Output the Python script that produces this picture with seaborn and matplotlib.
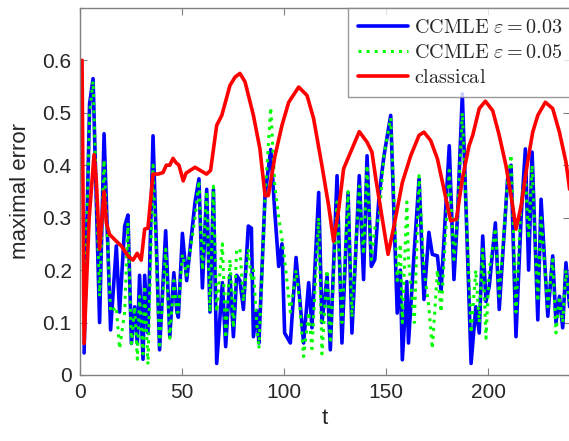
import matplotlib
matplotlib.use('Agg')
import matplotlib.pyplot as plt
import seaborn as sns

# time stamps of the CCMLE series (vertices)
t_ccmle = [2, 4.7, 6.4, 9.6, 11.8, 15, 17.8, 19.4, 21.9, 23.5, 25.2, 26.8, 28.1, 29.2,
           30.9, 31.7, 33.3, 35.8, 39, 42, 44, 46, 47.5, 48.2, 50.2, 52.3, 56.4, 58.3,
           60, 62.1, 63.7, 65.4, 67, 69.8, 71.4, 73.5, 75.2, 76.8, 78.4, 80.1, 82.5, 84,
           85, 86.6, 87.7, 90.7, 93.5, 95.5, 97.4, 99, 100.3, 103.1, 105.9, 107.6, 109.6,
           112.1, 113.7, 117, 118.6, 121.1, 122.7, 126, 128.4, 131.4, 133.3, 136.9, 139,
           140.7, 142.8, 144.5, 146.6, 149, 152.3, 155.5, 157, 158, 160.2, 161, 163.9,
           166.2, 168.6, 171, 172.7, 175.2, 177, 181, 183.3, 185, 187.4, 191.7, 194,
           195.7, 197.4, 199, 200.6, 203.6, 205.5, 209.6, 211.3, 213.7, 216.2, 218.3,
           219.9, 221.6, 224.4, 226, 229.3, 231.7, 233.3, 235, 236.6, 238.2, 240]

err_003 = [0.042, 0.517, 0.565, 0.10, 0.46, 0.086, 0.246, 0.12, 0.284, 0.305, 0.06, 0.13,
           0.06, 0.19, 0.03, 0.19, 0.08, 0.456, 0.048, 0.275, 0.073, 0.195, 0.12, 0.11,
           0.27, 0.18, 0.33, 0.374, 0.166, 0.354, 0.12, 0.354, 0.022, 0.176, 0.054, 0.19,
           0.073, 0.19, 0.18, 0.125, 0.284, 0.28, 0.073, 0.123, 0.061, 0.342, 0.43, 0.31,
           0.207, 0.25, 0.08, 0.061, 0.224, 0.15, 0.061, 0.176, 0.09, 0.348, 0.10, 0.188,
           0.048, 0.38, 0.061, 0.348, 0.08, 0.38, 0.182, 0.418, 0.207, 0.22, 0.342, 0.418,
           0.495, 0.118, 0.20, 0.029, 0.178, 0.061, 0.24, 0.374, 0.144, 0.272, 0.23, 0.227,
           0.16, 0.437, 0.182, 0.30, 0.536, 0.022, 0.13, 0.08, 0.265, 0.14, 0.169, 0.29,
           0.125, 0.374, 0.40, 0.073, 0.30, 0.431, 0.20, 0.425, 0.105, 0.335, 0.112, 0.227,
           0.10, 0.15, 0.09, 0.214, 0.13]

err_005 = [0.06, 0.50, 0.56, 0.15, 0.41, 0.12, 0.13, 0.05, 0.12, 0.29, 0.06, 0.13, 0.03,
           0.15, 0.04, 0.17, 0.02, 0.40, 0.05, 0.24, 0.07, 0.18, 0.12, 0.12, 0.23, 0.19,
           0.30, 0.37, 0.20, 0.35, 0.12, 0.36, 0.12, 0.25, 0.07, 0.22, 0.09, 0.24, 0.24,
           0.14, 0.24, 0.18, 0.20, 0.10, 0.05, 0.34, 0.51, 0.36, 0.30, 0.26, 0.22, 0.12,
           0.20, 0.14, 0.035, 0.12, 0.05, 0.30, 0.04, 0.20, 0.06, 0.33, 0.10, 0.35, 0.11,
           0.36, 0.23, 0.40, 0.22, 0.28, 0.30, 0.42, 0.49, 0.18, 0.25, 0.10, 0.33, 0.22,
           0.10, 0.38, 0.20, 0.13, 0.05, 0.20, 0.12, 0.39, 0.22, 0.30, 0.50, 0.08, 0.20,
           0.10, 0.24, 0.07, 0.20, 0.28, 0.15, 0.37, 0.42, 0.12, 0.33, 0.38, 0.26, 0.40,
           0.14, 0.30, 0.13, 0.22, 0.08, 0.15, 0.10, 0.20, 0.14]

# classical estimator
t_classical = [1, 2, 4.5, 6.9, 8, 9.6, 11.8, 12.9, 14.5, 17.8, 20.3, 23.5, 26, 28, 30,
               31.7, 33.3, 35.8, 38.2, 40.7, 42.3, 44, 45.6, 47, 48.5, 50.6, 52, 56.4,
               62, 64, 67, 69.5, 73.5, 76, 78.4, 80.9, 85, 88.2, 90.7, 92.3, 95.6, 99,
               102.3, 107.2, 111.3, 114.5, 118.6, 121.9, 124.3, 126.8, 129.2, 133.3,
               136.9, 140.7, 143.1, 145, 148.2, 151, 153.9, 158, 162.1, 166.2, 168.6,
               171.9, 175.2, 178.4, 181.7, 184.5, 187.4, 190.7, 192.5, 195.7, 198.7,
               202.3, 205.5, 208.8, 212.1, 213.7, 216.2, 219.4, 221.9, 224.4, 228.1,
               231.7, 235, 238.2, 240]
err_classical = [0.60, 0.06, 0.30, 0.42, 0.37, 0.24, 0.35, 0.29, 0.268, 0.255, 0.246,
                 0.227, 0.219, 0.232, 0.219, 0.278, 0.28, 0.383, 0.383, 0.386, 0.40,
                 0.40, 0.413, 0.405, 0.40, 0.37, 0.385, 0.396, 0.383, 0.39, 0.476, 0.495,
                 0.552, 0.568, 0.575, 0.559, 0.495, 0.431, 0.342, 0.342, 0.418, 0.476,
                 0.52, 0.549, 0.533, 0.489, 0.399, 0.322, 0.255, 0.316, 0.393, 0.431,
                 0.464, 0.444, 0.425, 0.374, 0.297, 0.23, 0.284, 0.367, 0.418, 0.457,
                 0.463, 0.447, 0.412, 0.354, 0.294, 0.297, 0.374, 0.437, 0.457, 0.508,
                 0.522, 0.504, 0.457, 0.399, 0.322, 0.278, 0.322, 0.406, 0.463, 0.495,
                 0.52, 0.508, 0.463, 0.406, 0.354]

x_ticks = [0, 50, 100, 150, 200]
y_ticks = [0, 0.1, 0.2, 0.3, 0.4, 0.5, 0.6]

sns.set_style('ticks')
plt.rcParams['font.family'] = ['Liberation Sans', 'DejaVu Sans']
plt.rcParams['mathtext.fontset'] = 'cm'

fig = plt.figure(figsize=(5.69, 4.41), dpi=100)
ax = fig.add_axes([0.1406, 0.1497, 0.8605, 0.8325])

sns.lineplot(x=t_ccmle, y=err_003, ax=ax, color=(0, 0, 1), lw=2.6,
             label=r'$\mathrm{CCMLE}\ \varepsilon = 0.03$')
sns.lineplot(x=t_ccmle, y=err_005, ax=ax, color=(0, 1, 0), lw=2.2, linestyle=':',
             label=r'$\mathrm{CCMLE}\ \varepsilon = 0.05$')
sns.lineplot(x=t_classical, y=err_classical, ax=ax, color=(1, 0, 0), lw=2.6,
             label=r'$\mathrm{classical}$')

ax.set_xlim(0, 240)
ax.set_ylim(0, 0.7)
ax.set_xticks(x_ticks)
ax.set_xticklabels([str(v) for v in x_ticks])
ax.set_yticks(y_ticks)
ax.set_yticklabels(['0'] + [f'{v:.1f}' for v in y_ticks[1:]])
ax.tick_params(direction='in', length=5, width=0.8, colors='#808080',
               labelcolor='#262626', labelsize=15, top=True, right=True, pad=6)
for s in ax.spines.values():
    s.set_color('#808080')
    s.set_linewidth(1.0)
    s.set_visible(True)

ax.set_xlabel('t', fontsize=16, color='#262626', labelpad=4)
ax.set_ylabel('maximal error', fontsize=16, color='#262626', labelpad=8)

leg = ax.legend(loc='upper left', bbox_to_anchor=(0.547, 1.0), borderaxespad=0,
                fontsize=14.5, frameon=True, fancybox=False, handlelength=2.5,
                handletextpad=0.3, labelspacing=0.3, borderpad=0.5)
leg.get_frame().set_edgecolor('#808080')
leg.get_frame().set_linewidth(1.0)

fig.savefig('out.png', dpi=100)
plt.close(fig)
